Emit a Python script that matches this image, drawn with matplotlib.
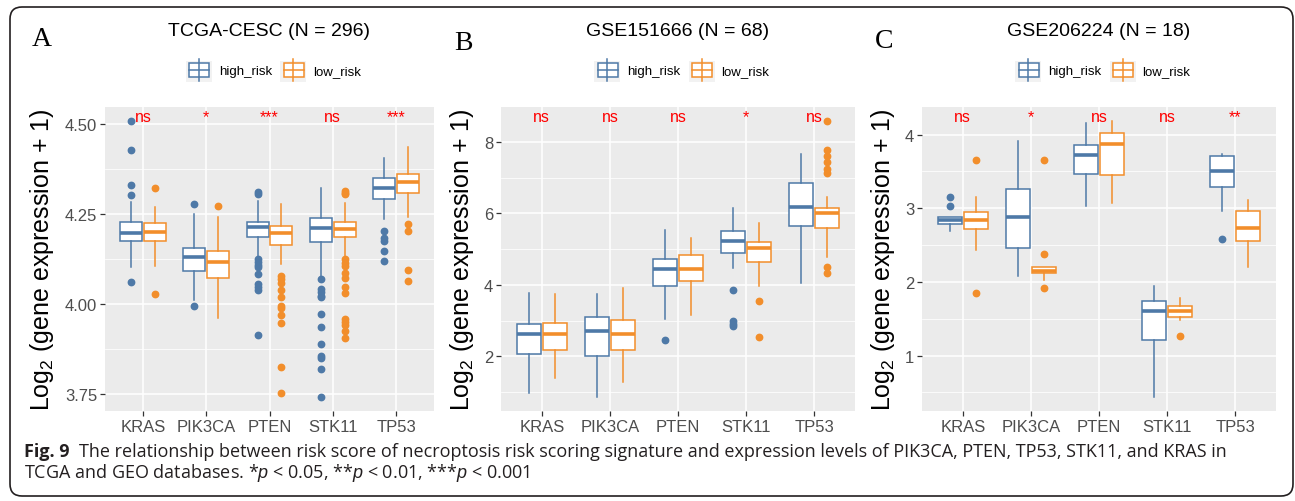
"""Boxplots of gene expression by necroptosis risk group in TCGA and GEO cohorts."""
import matplotlib
matplotlib.use("Agg")
import matplotlib.pyplot as plt
from matplotlib.patches import Rectangle, FancyBboxPatch
from matplotlib.lines import Line2D
from matplotlib.ticker import MultipleLocator, FormatStrFormatter
from matplotlib.transforms import IdentityTransform, blended_transform_factory

# ── Data (whislo, q1, median, q3, whishi) per gene ───────────────────────────

GENES = ["KRAS", "PIK3CA", "PTEN", "STK11", "TP53"]

# Panel A: TCGA-CESC (N = 296)
A_HIGH = [
    (4.102, 4.176, 4.198, 4.228, 4.283),
    (4.010, 4.093, 4.130, 4.155, 4.249),
    (4.133, 4.187, 4.214, 4.229, 4.286),
    (4.077, 4.171, 4.211, 4.239, 4.323),
    (4.235, 4.293, 4.322, 4.349, 4.407),
]
A_LOW = [
    (4.105, 4.176, 4.201, 4.225, 4.270),
    (3.960, 4.072, 4.116, 4.148, 4.243),
    (4.110, 4.163, 4.198, 4.217, 4.277),
    (4.128, 4.186, 4.209, 4.228, 4.282),
    (4.242, 4.308, 4.339, 4.362, 4.437),
]
A_HIGH_OUT = [
    [4.509, 4.428, 4.330, 4.303, 4.062],
    [4.277, 3.995],
    [4.311, 4.305, 4.125, 4.117, 4.108, 4.102, 4.084, 4.056, 4.048, 4.040, 3.914],
    [4.070, 4.042, 4.033, 4.023, 4.019, 3.972, 3.936, 3.889, 3.856, 3.849, 3.820, 3.741],
    [4.204, 4.184, 4.175, 4.147, 4.119],
]
A_LOW_OUT = [
    [4.321, 4.028],
    [4.273],
    [4.079, 4.070, 4.059, 4.038, 4.019, 3.995, 3.989, 3.970, 3.947, 3.824, 3.752],
    [4.314, 4.309, 4.305, 4.124, 4.114, 4.105, 4.086, 4.072, 4.047, 4.031,
     3.958, 3.949, 3.942, 3.924, 3.905],
    [4.222, 4.202, 4.095, 4.065],
]
A_SIG = ["ns", "*", "***", "ns", "***"]

# Panel B: GSE151666 (N = 68)
B_HIGH = [
    (0.972, 2.075, 2.617, 2.907, 3.776),
    (0.860, 2.000, 2.701, 3.093, 3.757),
    (3.047, 3.981, 4.449, 4.729, 5.523),
    (4.477, 4.897, 5.224, 5.514, 6.159),
    (4.056, 5.645, 6.178, 6.841, 7.673),
]
B_LOW = [
    (1.393, 2.187, 2.626, 2.935, 3.757),
    (1.271, 2.187, 2.626, 3.009, 3.916),
    (3.159, 4.121, 4.449, 4.832, 5.299),
    (3.981, 4.645, 5.028, 5.196, 5.738),
    (4.785, 5.579, 6.019, 6.140, 6.467),
]
B_HIGH_OUT = [[], [], [2.467], [3.86, 2.98, 2.92, 2.84], []]
B_LOW_OUT = [[], [], [], [3.551, 2.542],
             [8.589, 7.766, 7.607, 7.449, 7.234, 7.140, 4.50, 4.34]]
B_SIG = ["ns", "ns", "ns", "*", "ns"]

# Panel C: GSE206224 (N = 18)
C_HIGH = [
    (2.686, 2.786, 2.841, 2.877, 2.877),
    (2.082, 2.455, 2.886, 3.264, 3.914),
    (3.036, 3.459, 3.718, 3.855, 4.150),
    (0.436, 1.218, 1.600, 1.741, 1.945),
    (2.968, 3.282, 3.500, 3.709, 3.741),
]
C_LOW = [
    (2.436, 2.718, 2.841, 2.955, 3.150),
    (2.027, 2.118, 2.150, 2.205, 2.205),
    (3.073, 3.445, 3.868, 4.023, 4.186),
    (1.482, 1.523, 1.605, 1.673, 1.777),
    (2.209, 2.559, 2.736, 2.964, 3.105),
]
C_HIGH_OUT = [[3.15, 3.027], [], [], [], [2.582]]
C_LOW_OUT = [[3.659, 1.845], [3.659, 2.377, 1.923], [], [1.264], []]
C_SIG = ["ns", "*", "ns", "ns", "**"]

TITLES = ["TCGA-CESC (N = 296)", "GSE151666 (N = 68)", "GSE206224 (N = 18)"]
LETTERS = ["A", "B", "C"]
GROUPS = ["high_risk", "low_risk"]

# ── Style ─────────────────────────────────────────────────────────────────────

W, H = 1295, 502
BLUE = "#4E79A7"
ORANGE = "#F28E2B"
PANEL_BG = "#EBEBEB"
KEY_BG = "#F2F2F2"
SANS = "Liberation Sans"
LW = 1.1

plt.rcParams["font.family"] = [SANS, "DejaVu Sans"]
plt.rcParams["mathtext.fontset"] = "custom"
plt.rcParams["mathtext.rm"] = SANS
plt.rcParams["mathtext.it"] = SANS + ":italic"


def fx(px):
    return px / W


def fy(py):
    return 1 - py / H


def _stats(box, out):
    lo, q1, med, q3, hi = box
    return dict(whislo=lo, q1=q1, med=med, q3=q3, whishi=hi, fliers=out)


def draw_panel(ax, high, low, high_out, low_out, sig, major, minor, fmt):
    pos = list(range(1, len(GENES) + 1))
    for boxes, outs, color, off in ((high, high_out, BLUE, -0.1875),
                                    (low, low_out, ORANGE, 0.1875)):
        stats = [_stats(b, o) for b, o in zip(boxes, outs)]
        ax.bxp(stats, positions=[p + off for p in pos], widths=0.35,
               patch_artist=True, showcaps=False, manage_ticks=False,
               boxprops=dict(facecolor="white", edgecolor=color, linewidth=LW),
               medianprops=dict(color=color, linewidth=2.6, solid_capstyle="butt"),
               whiskerprops=dict(color=color, linewidth=LW),
               flierprops=dict(marker="o", markerfacecolor=color,
                               markeredgecolor=color, markersize=4.6,
                               linestyle="none"))

    vals = [v for b in high + low for v in b]
    vals += [v for o in high_out + low_out for v in o]
    lo, hi = min(vals), max(vals)
    pad = 0.05 * (hi - lo)
    ax.set_ylim(lo - pad, hi + pad)
    ax.set_xlim(0.4, len(GENES) + 0.6)

    ax.set_facecolor(PANEL_BG)
    for s in ax.spines.values():
        s.set_visible(False)
    ax.set_xticks(pos)
    ax.set_xticklabels(GENES)
    ax.yaxis.set_major_locator(MultipleLocator(major))
    ax.yaxis.set_minor_locator(MultipleLocator(minor))
    ax.yaxis.set_major_formatter(FormatStrFormatter(fmt))
    ax.grid(True, which="major", color="white", linewidth=1.1)
    ax.grid(True, which="minor", axis="y", color="white", linewidth=0.55)
    ax.set_axisbelow(True)
    ax.tick_params(which="major", length=3.5, width=0.9, color="#333333",
                   labelcolor="#4D4D4D", labelsize=12, pad=2)
    ax.tick_params(which="minor", length=0)

    tr = blended_transform_factory(ax.transData, ax.transAxes)
    for p, s in zip(pos, sig):
        ax.text(p, 0.954, s, transform=tr, color="red", fontsize=11.5,
                ha="center", va="baseline")


def draw_legend(fig, cx):
    for (k0, t0), color, label in zip(((-84, -50.5), (10.5, 43.5)),
                                      (BLUE, ORANGE), GROUPS):
        fig.add_artist(Rectangle((fx(cx + k0), fy(83.3)), 26 / W, 21.6 / H,
                                 transform=fig.transFigure, facecolor=KEY_BG,
                                 edgecolor="none"))
        bx = cx + k0 + 3.5
        mid = cx + k0 + 13
        fig.add_artist(Line2D([fx(mid), fx(mid)], [fy(60), fy(82)],
                              transform=fig.transFigure, color=color, lw=LW))
        fig.add_artist(Rectangle((fx(bx), fy(77.7)), 20 / W, 13.7 / H,
                                 transform=fig.transFigure, facecolor="white",
                                 edgecolor=color, linewidth=LW))
        fig.add_artist(Line2D([fx(bx), fx(bx + 20)], [fy(71), fy(71)],
                              transform=fig.transFigure, color=color, lw=LW))
        fig.text(fx(cx + t0), fy(72), label, fontsize=9.5, color="black",
                 ha="left", va="center")


# ── Figure ────────────────────────────────────────────────────────────────────

fig = plt.figure(figsize=(W / 100, H / 100), dpi=100)
fig.patch.set_facecolor("white")

AX_PX = [(105, 434), (501, 855), (922, 1276)]
AX_TOP, AX_BOT = 108, 412
YLAB_X = [42, 462, 883]
LETTER_XY = [(42, 40), (463, 43), (884, 42)]

panels = [
    (A_HIGH, A_LOW, A_HIGH_OUT, A_LOW_OUT, A_SIG, 0.25, 0.125, "%.2f"),
    (B_HIGH, B_LOW, B_HIGH_OUT, B_LOW_OUT, B_SIG, 2, 1, "%d"),
    (C_HIGH, C_LOW, C_HIGH_OUT, C_LOW_OUT, C_SIG, 1, 0.5, "%d"),
]

for i, args in enumerate(panels):
    x0, x1 = AX_PX[i]
    ax = fig.add_axes([fx(x0), fy(AX_BOT), (x1 - x0) / W, (AX_BOT - AX_TOP) / H])
    draw_panel(ax, *args)
    cx = (x0 + x1) / 2
    fig.text(fx(cx), fy(32), TITLES[i], fontsize=14, ha="center", va="center")
    draw_legend(fig, cx)
    fig.text(fx(YLAB_X[i]), fy((AX_TOP + AX_BOT) / 2),
             r"Log$_2$ (gene expression + 1)", fontsize=18, rotation=90,
             ha="center", va="center")
    lx, ly = LETTER_XY[i]
    fig.text(fx(lx), fy(ly), LETTERS[i], fontsize=20, family="Liberation Serif",
             ha="center", va="center")

# caption
CAP_FONT = ["Open Sans", "DejaVu Sans"]
CAP_SIZE = 13
t1 = fig.text(fx(24), fy(456.7), "Fig. 9", fontsize=CAP_SIZE, fontweight="bold",
              family=CAP_FONT, color="#231F20", ha="left", va="baseline")
fig.add_artist(plt.Annotation(
    "The relationship between risk score of necroptosis risk scoring signature "
    "and expression levels of PIK3CA, PTEN, TP53, STK11, and KRAS in",
    xy=(1, 0), xycoords=t1, xytext=(7, 0), textcoords="offset points",
    fontsize=CAP_SIZE, family=CAP_FONT, color="#231F20", ha="left", va="bottom"))
fig.text(fx(24), fy(478.3),
         r"TCGA and GEO databases. *$p$ < 0.05, **$p$ < 0.01, ***$p$ < 0.001",
         fontsize=CAP_SIZE, family=CAP_FONT, color="#231F20", ha="left",
         va="baseline")

# rounded frame around the whole figure
fig.add_artist(FancyBboxPatch((10, H - 497), 1283, 489,
                              boxstyle="round,pad=0,rounding_size=12",
                              transform=IdentityTransform(), fill=False,
                              edgecolor="#231F20", linewidth=1.2))

fig.savefig("out.png", dpi=100)
